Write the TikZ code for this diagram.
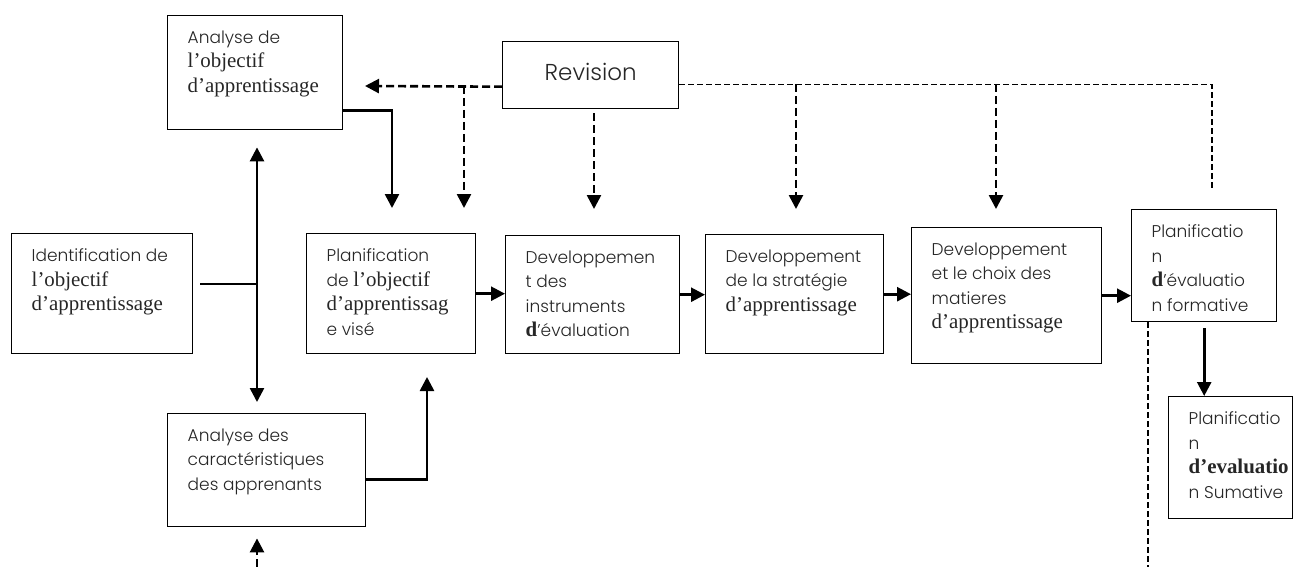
\documentclass[tikz,border=0pt]{standalone}
\usepackage{fontspec}
\IfFontExistsTF{Poppins Light}{\setmainfont{Poppins Light}}{\setmainfont{Poppins}}
\newfontfamily\tnr{Liberation Serif}[Scale=1.23]
\usetikzlibrary{arrows.meta}

\newcommand{\boxtext}[3]{\parbox[t][#2][t]{#1}{\raggedright\hyphenpenalty=10000 #3}}

\tikzset{
  box/.style={draw, line width=1.4pt, anchor=north west, inner xsep=20pt, inner ysep=15pt,
    font=\fontsize{17}{24.5}\selectfont, text=black!85},
  arr/.style={line width=2.6pt, -{Triangle[length=14pt,width=14pt]}},
  dasharr/.style={arr, dash pattern=on 8pt off 4pt},
  thindash/.style={line width=1.4pt, dash pattern=on 6pt off 3pt}
}

\begin{document}
\begin{tikzpicture}[x=1pt, y=-1pt]
  \useasboundingbox (0,0) rectangle (1304,567);

  % boxes
  \node[box] (aobj) at (167,15) {\boxtext{135pt}{84pt}{Analyse de\\ \tnr l’objectif\\ d’apprentissage}};
  \node[box, minimum width=176pt, minimum height=67pt, inner ysep=0pt,
    font=\fontsize{23}{28}\selectfont] (rev) at (502,41) {\raisebox{6pt}{Revision}};
  \node[box] (ident) at (11,233) {\boxtext{141pt}{90pt}{Identification de\\ \tnr l’objectif\\ d’apprentissage}};
  \node[box] (pobj) at (306,233) {\boxtext{129pt}{90pt}{Planification\\ de {\tnr l’objectif}\\ {\tnr d’apprentissag}\\ e visé}};
  \node[box] (dinst) at (505,235) {\boxtext{134pt}{88pt}{Developpemen\\ t des\\ instruments\\ {\tnr\bfseries d}’évaluation}};
  \node[box] (dstrat) at (705,234) {\boxtext{138pt}{89pt}{Developpement\\ de la stratégie\\ \tnr d’apprentissage}};
  \node[box] (dchoix) at (911,227) {\boxtext{150pt}{106pt}{Developpement\\ et le choix des\\ matieres\\ \tnr d’apprentissage}};
  \node[box] (pform) at (1131,209) {\boxtext{105pt}{82pt}{Planificatio\\ n\\ {\tnr\bfseries d}’évaluatio\\ \mbox{n formative}}};
  \node[box] (psom) at (1168,396) {\boxtext{84pt}{92pt}{Planificatio\\ n\\ {\tnr\bfseries d’evaluatio}\\ \mbox{n Sumative}}};
  \node[box] (acar) at (167,413) {\boxtext{158pt}{83pt}{Analyse des\\ caractéristiques\\ des apprenants}};

  % ends of the connectors
  \coordinate (junc) at (257,284);
  \coordinate (t1) at (392,208);
  \coordinate (t2) at (427,377);
  \coordinate (b0) at (257,567);
  \coordinate (r0) at (365,86);
  \coordinate (j1) at (464,86);
  \coordinate (t3) at (464,208);
  \coordinate (t4) at (594,209);
  \coordinate (c5) at (1212,188);
  \coordinate (j2) at (796,84);
  \coordinate (t5) at (796,209);
  \coordinate (j3) at (996,84);
  \coordinate (t6) at (996,209);
  \coordinate (b1) at (1148,567);

  % left part
  \draw[line width=2.6pt, shorten <=7pt] (ident.east |- junc) -- (junc);
  \draw[arr, shorten >=17pt] (junc) -- (aobj.south -| junc);
  \draw[arr, shorten >=11pt] (junc) -- (acar.north -| junc);
  \draw[dasharr, shorten >=11pt] (b0) -- (acar.south -| b0);
  \draw[arr] ([yshift=-38pt]aobj.east) -| (t1);
  \draw[arr] ([yshift=-9.5pt]acar.east) -| (t2);

  % main row
  \draw[arr] (pobj.east) -- (pobj.east -| dinst.west);
  \draw[arr] (dinst.east) -- (dinst.east -| dstrat.west);
  \draw[arr] (dstrat.east) -- (dstrat.east -| dchoix.west);
  \draw[arr] (dchoix.east) -- (dchoix.east -| pform.west);
  \draw[arr, shorten <=6pt] (pform.south) -- (pform.south |- psom.north);
  \draw[thindash] (pform.south -| b1) -- (b1);

  % revision
  \draw[dasharr] ([yshift=-11.5pt]rev.west) -- (r0);
  \draw[dasharr] (j1) -- (t3);
  \draw[dasharr, shorten <=4pt] (rev.south -| t4) -- (t4);
  \draw[thindash] ([yshift=-9.5pt]rev.east) -| (c5);
  \draw[dasharr] (j2) -- (t5);
  \draw[dasharr] (j3) -- (t6);

\end{tikzpicture}
\end{document}
